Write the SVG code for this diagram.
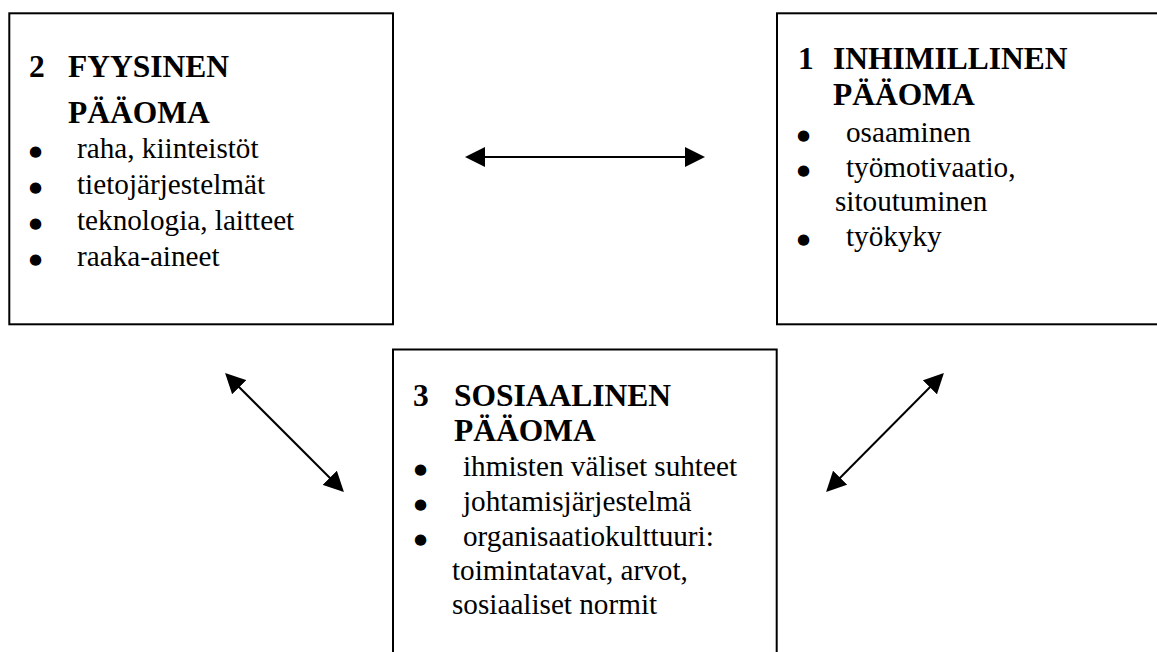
<svg xmlns="http://www.w3.org/2000/svg" width="1157" height="652" viewBox="0 0 1157 652">
  <style>
    .box { fill: #fff; stroke: #000; stroke-width: 2; }
    .head { font-family: "Liberation Serif", "Times New Roman", serif; font-weight: bold; font-size: 31.5px; fill: #000; }
    .item { font-family: "Liberation Serif", "Times New Roman", serif; font-size: 29.2px; fill: #000; }
    .dot { font-family: "DejaVu Sans", sans-serif; font-size: 15px; fill: #000; }
    .link { stroke: #000; stroke-width: 2; fill: none; marker-start: url(#tip); marker-end: url(#tip); }
  </style>
  <defs>
    <marker id="tip" viewBox="0 0 20 20" refX="18" refY="10" markerWidth="20" markerHeight="20" markerUnits="userSpaceOnUse" orient="auto-start-reverse">
      <path d="M0,0 L20,10 L0,20 Z" fill="#000"/>
    </marker>
  </defs>
  <rect width="1157" height="652" fill="#fff"/>

  <!-- physical capital -->
  <g id="fyysinen">
    <rect class="box" x="9.3" y="13.3" width="383.7" height="311"/>
    <text class="head" x="29" y="77">2</text>
    <text class="head" x="68" y="77">FYYSINEN</text>
    <text class="head" x="68" y="123">PÄÄOMA</text>
    <text class="dot" x="29" y="155.5">●</text>
    <text class="item" x="77" y="158">raha, kiinteistöt</text>
    <text class="dot" x="29" y="191.5">●</text>
    <text class="item" x="77" y="194">tietojärjestelmät</text>
    <text class="dot" x="29" y="227.5">●</text>
    <text class="item" x="77" y="230">teknologia, laitteet</text>
    <text class="dot" x="29" y="263.5">●</text>
    <text class="item" x="77" y="266">raaka-aineet</text>
  </g>

  <!-- human capital -->
  <g id="inhimillinen">
    <rect class="box" x="777" y="13.3" width="400" height="311"/>
    <text class="head" x="798" y="69">1</text>
    <text class="head" x="833" y="69">INHIMILLINEN</text>
    <text class="head" x="833" y="105">PÄÄOMA</text>
    <text class="dot" x="797" y="139.5">●</text>
    <text class="item" x="846" y="142">osaaminen</text>
    <text class="dot" x="797" y="174.5">●</text>
    <text class="item" x="846" y="177">työmotivaatio,</text>
    <text class="item" x="835" y="211">sitoutuminen</text>
    <text class="dot" x="797" y="243.5">●</text>
    <text class="item" x="846" y="246">työkyky</text>
  </g>

  <!-- social capital -->
  <g id="sosiaalinen">
    <rect class="box" x="393" y="349.5" width="383.7" height="320"/>
    <text class="head" x="413" y="406">3</text>
    <text class="head" x="454" y="406">SOSIAALINEN</text>
    <text class="head" x="454" y="441">PÄÄOMA</text>
    <text class="dot" x="414" y="473.5">●</text>
    <text class="item" x="463" y="476">ihmisten väliset suhteet</text>
    <text class="dot" x="414" y="508.5">●</text>
    <text class="item" x="463" y="511">johtamisjärjestelmä</text>
    <text class="dot" x="414" y="543.5">●</text>
    <text class="item" x="463" y="546">organisaatiokulttuuri:</text>
    <text class="item" x="452" y="580">toimintatavat, arvot,</text>
    <text class="item" x="452" y="614">sosiaaliset normit</text>
  </g>

  <!-- two-way links between the capitals -->
  <g id="connectors">
    <line class="link" x1="467" y1="157" x2="703" y2="157"/>
    <line class="link" x1="226.5" y1="374.5" x2="342.5" y2="490.5"/>
    <line class="link" x1="942.5" y1="374.5" x2="827.5" y2="490.5"/>
  </g>
</svg>
